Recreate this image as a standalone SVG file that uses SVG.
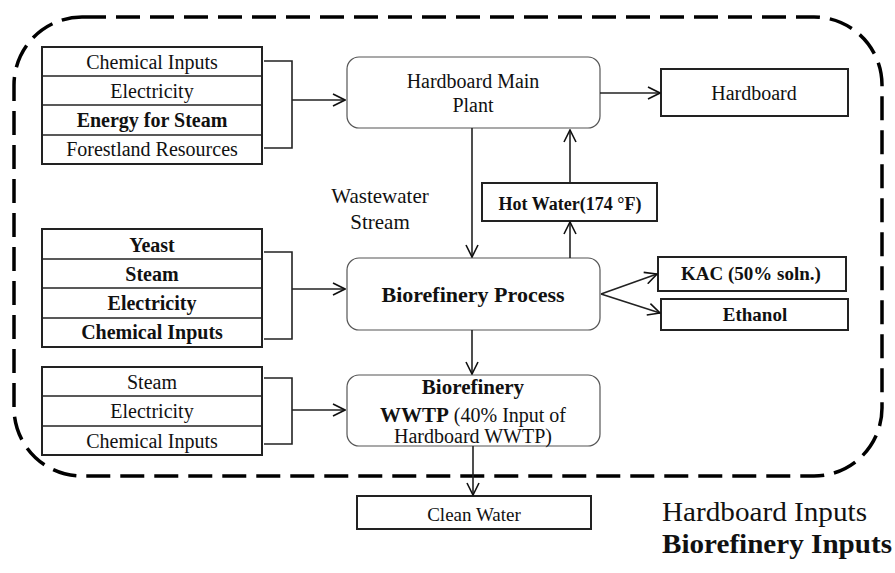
<svg xmlns="http://www.w3.org/2000/svg" width="895" height="573" viewBox="0 0 895 573">
<style>
text{font-family:"Liberation Serif","Times New Roman",serif;fill:#111;text-anchor:middle}
.t{font-size:20px}
.b{font-size:20px;font-weight:bold}
.box{fill:#fff;stroke:#222;stroke-width:2}
.rbox{fill:#fff;stroke:#555;stroke-width:1.2}
.ln{fill:none;stroke:#222;stroke-width:1.6}
.bd{fill:none;stroke:#000;stroke-width:3.5;stroke-dasharray:24 10}
</style>
<defs>
<marker id="ah" viewBox="0 0 14 14" refX="13" refY="7" markerWidth="14" markerHeight="14" orient="auto" markerUnits="userSpaceOnUse">
<path d="M1,1 L13,7 L1,13" fill="none" stroke="#111" stroke-width="1.6"/>
</marker>
</defs>
<rect id="boundary" class="bd" x="14" y="17" width="868" height="459" rx="68" ry="68"/>
<g id="hardboard-inputs">
<rect class="box" x="42" y="47" width="220" height="117"/>
<line class="ln" x1="42" y1="76" x2="262" y2="76" stroke-width="2"/>
<line class="ln" x1="42" y1="105" x2="262" y2="105" stroke-width="2"/>
<line class="ln" x1="42" y1="135" x2="262" y2="135" stroke-width="2"/>
<text class="t" x="152" y="69">Chemical Inputs</text>
<text class="t" x="152" y="98">Electricity</text>
<text class="b" x="152" y="127">Energy for Steam</text>
<text class="t" x="152" y="156">Forestland Resources</text>
</g>
<g id="biorefinery-inputs">
<rect class="box" x="42" y="229" width="220" height="118"/>
<line class="ln" x1="42" y1="259" x2="262" y2="259" stroke-width="2"/>
<line class="ln" x1="42" y1="288" x2="262" y2="288" stroke-width="2"/>
<line class="ln" x1="42" y1="318" x2="262" y2="318" stroke-width="2"/>
<text class="b" x="152" y="252">Yeast</text>
<text class="b" x="152" y="281">Steam</text>
<text class="b" x="152" y="310">Electricity</text>
<text class="b" x="152" y="339">Chemical Inputs</text>
</g>
<g id="wwtp-inputs">
<rect class="box" x="42" y="367" width="220" height="88"/>
<line class="ln" x1="42" y1="396" x2="262" y2="396" stroke-width="2"/>
<line class="ln" x1="42" y1="426" x2="262" y2="426" stroke-width="2"/>
<text class="t" x="152" y="389">Steam</text>
<text class="t" x="152" y="418">Electricity</text>
<text class="t" x="152" y="448">Chemical Inputs</text>
</g>
<g id="main-plant">
<rect class="rbox" x="347" y="57" width="253" height="71" rx="12"/>
<text class="t" x="473" y="88">Hardboard Main</text>
<text class="t" x="473" y="112">Plant</text>
</g>
<g id="hardboard">
<rect class="box" x="661" y="69" width="187" height="47"/>
<text class="t" x="754" y="100">Hardboard</text>
</g>
<g id="hot-water">
<rect class="box" x="482" y="183" width="175" height="38"/>
<text class="b" x="570" y="210" style="font-size:18px">Hot Water(174 °F)</text>
</g>
<g id="wastewater-label">
<text x="380" y="203" style="font-size:21px">Wastewater</text>
<text x="380" y="229" style="font-size:21px">Stream</text>
</g>
<g id="bio-process">
<rect class="rbox" x="347" y="258" width="253" height="72" rx="12"/>
<text class="b" x="473" y="302" style="font-size:22px">Biorefinery Process</text>
</g>
<g id="kac">
<rect class="box" x="658" y="257" width="188" height="34"/>
<text class="b" x="751" y="280" style="font-size:19px">KAC (50% soln.)</text>
</g>
<g id="ethanol">
<rect class="box" x="661" y="299" width="187" height="31"/>
<text class="b" x="755" y="321" style="font-size:19px">Ethanol</text>
</g>
<g id="bio-wwtp">
<rect class="rbox" x="347" y="375" width="253" height="71" rx="12"/>
<text class="b" x="473" y="394" style="font-size:21px">Biorefinery</text>
<text x="473" y="422" style="font-size:20px"><tspan style="font-weight:bold;font-size:21px">WWTP</tspan>  (40% Input of</text>
<text class="t" x="473" y="443">Hardboard WWTP)</text>
</g>
<g id="clean-water">
<rect class="box" x="357" y="496" width="234" height="33"/>
<text class="t" x="474" y="521" style="font-size:19px">Clean Water</text>
</g>
<g id="legend">
<text x="662" y="521" style="font-size:28px;text-anchor:start" textLength="205" lengthAdjust="spacingAndGlyphs">Hardboard Inputs</text>
<text x="662" y="553" style="font-size:28px;font-weight:bold;text-anchor:start" textLength="230" lengthAdjust="spacingAndGlyphs">Biorefinery Inputs</text>
</g>
<g id="connectors">
<path class="ln" d="M264,61 H292 V148 H264"/>
<line class="ln" x1="292" y1="100" x2="345" y2="100" marker-end="url(#ah)"/>
<path class="ln" d="M264,252 H292 V339 H264"/>
<line class="ln" x1="292" y1="289" x2="345" y2="289" marker-end="url(#ah)"/>
<path class="ln" d="M264,378 H292 V444 H264"/>
<line class="ln" x1="292" y1="410" x2="345" y2="410" marker-end="url(#ah)"/>
<line class="ln" x1="600" y1="93" x2="660" y2="93" marker-end="url(#ah)"/>
<line class="ln" x1="472" y1="128" x2="472" y2="257" marker-end="url(#ah)"/>
<line class="ln" x1="570" y1="258" x2="570" y2="222" marker-end="url(#ah)"/>
<line class="ln" x1="570" y1="183" x2="570" y2="130" marker-end="url(#ah)"/>
<line class="ln" x1="601" y1="294" x2="657" y2="274" marker-end="url(#ah)"/>
<line class="ln" x1="601" y1="294" x2="660" y2="313" marker-end="url(#ah)"/>
<line class="ln" x1="472" y1="330" x2="472" y2="374" marker-end="url(#ah)"/>
<line class="ln" x1="473" y1="446" x2="473" y2="495" marker-end="url(#ah)"/>
</g>
</svg>
